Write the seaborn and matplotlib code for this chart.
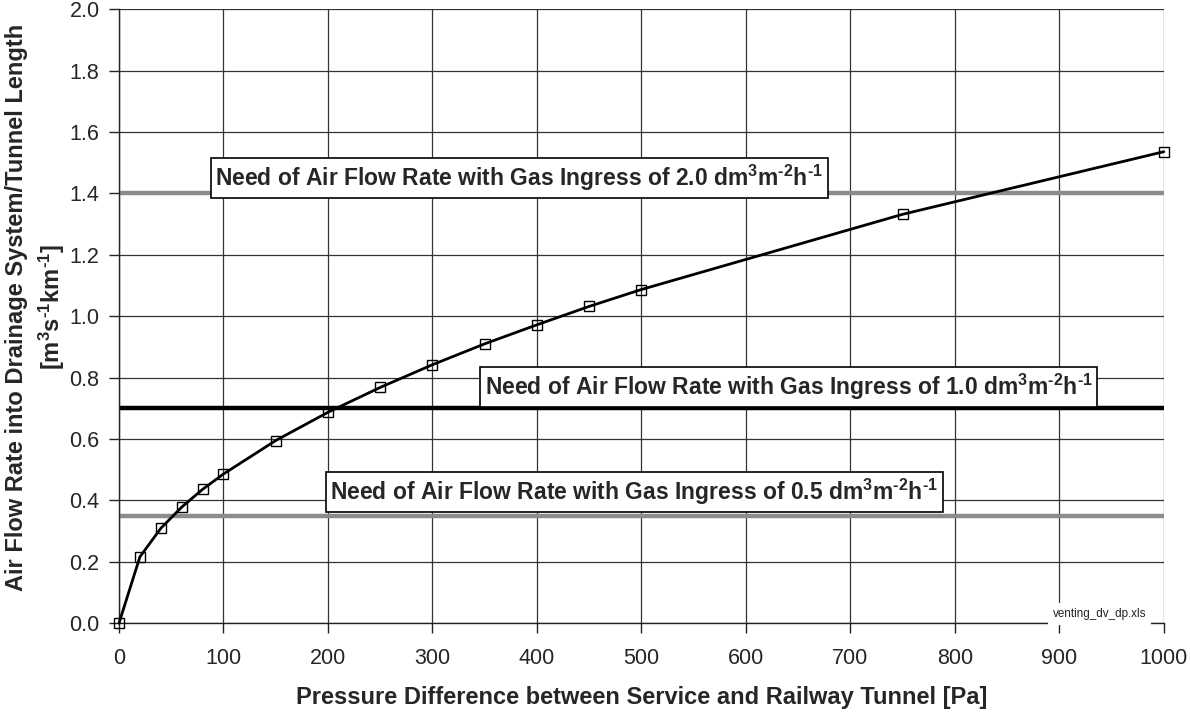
import matplotlib
matplotlib.use("Agg")
import matplotlib.pyplot as plt
import seaborn as sns
import pandas as pd
from matplotlib.ticker import MultipleLocator, FormatStrFormatter

# Data
pressure_pa = [0, 20, 40, 60, 80, 100, 150, 200, 250, 300, 350, 400, 450, 500, 750, 1000]
air_flow = [0.0, 0.216, 0.309, 0.378, 0.436, 0.486, 0.595, 0.687, 0.768, 0.842, 0.910,
            0.972, 1.032, 1.087, 1.332, 1.536]
need_levels = [1.4, 0.7, 0.35]
H = "\u2010"
unit = r"dm$^{3}$m$^{" + H + r"2}$h$^{" + H + r"1}$"
need_labels = [
    "Need of Air Flow Rate with Gas Ingress of 2.0 " + unit,
    "Need of Air Flow Rate with Gas Ingress of 1.0 " + unit,
    "Need of Air Flow Rate with Gas Ingress of 0.5 " + unit,
]
need_colors = ["#8c8c8c", "#000000", "#8c8c8c"]
label_pos = [(383, 1.45), (641, 0.769), (493, 0.427)]
xlabel = "Pressure Difference between Service and Railway Tunnel [Pa]"
ylabel = ("Air Flow Rate into Drainage System/Tunnel Length\n"
          "[m$^{3}$s$^{" + H + "1}$km$^{" + H + "1}$]")
source_note = "venting_dv_dp.xls"

sns.set_style("white")
plt.rcParams["font.family"] = ["Liberation Sans", "DejaVu Sans"]
plt.rcParams["mathtext.fontset"] = "custom"
plt.rcParams["mathtext.rm"] = "Liberation Sans:bold"
plt.rcParams["mathtext.bf"] = "Liberation Sans:bold"
plt.rcParams["mathtext.it"] = "Liberation Sans:bold"
plt.rcParams["mathtext.default"] = "bf"

fig = plt.figure(figsize=(11.9, 7.13), dpi=100)
ax = fig.add_axes([0.1, 0.126, 0.878, 0.861])

ax.set_xlim(0, 1000)
ax.set_ylim(0, 2.0)
ax.xaxis.set_major_locator(MultipleLocator(100))
ax.yaxis.set_major_locator(MultipleLocator(0.2))
ax.yaxis.set_major_formatter(FormatStrFormatter("%.1f"))
ax.grid(True, color="#333333", linewidth=0.9)
ax.set_axisbelow(True)
for s in ["top", "right"]:
    ax.spines[s].set_visible(False)
for s in ["left", "bottom"]:
    ax.spines[s].set_color("#222222")
    ax.spines[s].set_linewidth(1.0)

for lvl, col in zip(need_levels, need_colors):
    ax.axhline(lvl, color=col, linewidth=3.2, zorder=2)

df = pd.DataFrame({"dp": pressure_pa, "q": air_flow})
sns.lineplot(data=df, x="dp", y="q", ax=ax, color="black", linewidth=2.0,
             marker="s", markersize=7.5, markerfacecolor="none",
             markeredgecolor="black", markeredgewidth=1.0, zorder=4, clip_on=False)

for txt, (tx, ty) in zip(need_labels, label_pos):
    ax.text(tx, ty, txt, ha="center", va="center", fontsize=16.5, fontweight="bold",
            zorder=5,
            bbox=dict(boxstyle="square,pad=0.2", facecolor="white", edgecolor="black", linewidth=1.2))

ax.text(983, 0.03, source_note, ha="right", va="center", fontsize=8.4, color="#222222",
        zorder=5, bbox=dict(boxstyle="square,pad=0.4", facecolor="white", edgecolor="none"))

ax.tick_params(axis="both", direction="out", length=7, width=1, color="#222222",
               labelsize=15.5, bottom=True, left=True)
ax.tick_params(axis="x", pad=11)
ax.tick_params(axis="y", pad=7)
ax.set_xlabel(xlabel, fontsize=17, fontweight="bold", labelpad=12)
ax.set_ylabel(ylabel, fontsize=17, fontweight="bold", linespacing=1.35)
ax.yaxis.set_label_coords(-0.05, 0.515)

fig.savefig("out.png", dpi=100)
